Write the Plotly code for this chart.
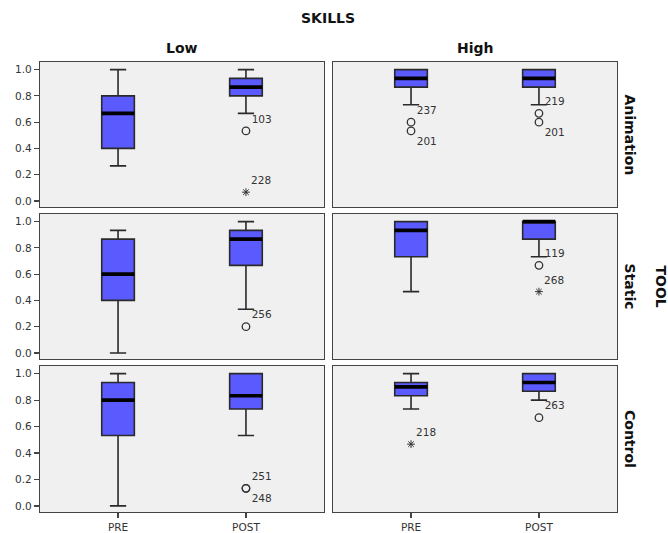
import plotly.graph_objects as go

# ---------------- data ----------------
groups = ["PRE", "POST"]
skills = ["Low", "High"]
tools = ["Animation", "Static", "Control"]

# order: for tool in tools, for skill in skills, for group in groups
lower_whisker = [0.267, 0.667, 0.733, 0.733,
                 0.000, 0.333, 0.467, 0.733,
                 0.000, 0.533, 0.733, 0.800]
q1 = [0.400, 0.800, 0.867, 0.867,
      0.400, 0.667, 0.733, 0.867,
      0.533, 0.733, 0.833, 0.867]
median = [0.667, 0.867, 0.933, 0.933,
          0.600, 0.867, 0.933, 1.000,
          0.800, 0.833, 0.900, 0.933]
q3 = [0.800, 0.933, 1.000, 1.000,
      0.867, 0.933, 1.000, 1.000,
      0.933, 1.000, 0.933, 1.000]
upper_whisker = [1.000, 1.000, 1.000, 1.000,
                 0.933, 1.000, 1.000, 1.000,
                 1.000, 1.000, 1.000, 1.000]

# outliers (circle) and extremes (star)
out_tool = ["Animation", "Animation", "Animation", "Animation", "Animation", "Animation",
            "Static", "Static", "Static", "Control", "Control", "Control", "Control"]
out_skill = ["Low", "Low", "High", "High", "High", "High",
             "Low", "High", "High", "Low", "Low", "High", "High"]
out_group = ["POST", "POST", "PRE", "PRE", "POST", "POST",
             "POST", "POST", "POST", "POST", "POST", "PRE", "POST"]
out_value = [0.533, 0.067, 0.600, 0.533, 0.667, 0.600,
             0.200, 0.667, 0.467, 0.133, 0.133, 0.467, 0.667]
out_kind = ["o", "*", "o", "o", "o", "o",
            "o", "o", "*", "o", "o", "*", "o"]
out_label = ["103", "228", "237", "201", "219", "201",
             "256", "119", "268", "251", "248", "218", "263"]
out_side = ["top", "top", "top", "bottom", "top", "bottom",
            "top", "top", "top", "top", "bottom", "top", "top"]

y_ticks = [0.0, 0.2, 0.4, 0.6, 0.8, 1.0]

# ---------------- layout constants ----------------
W, H = 668, 533
BOX_W = 0.255
X_RANGE = [-0.61, 1.61]
Y_RANGE = [-0.046, 1.058]
BOX_FILL = "#5a5aff"
EDGE = "#2a2a2a"
FONT = "DejaVu Sans"

x_dom = {"Low": [40 / W, 324 / W], "High": [333 / W, 617 / W]}
y_dom = {"Animation": [1 - 207 / H, 1 - 62 / H],
         "Static": [1 - 359 / H, 1 - 214 / H],
         "Control": [1 - 512 / H, 1 - 366 / H]}

fig = go.Figure()
layout_axes = {}

for ti, tool in enumerate(tools):
    for si, skill in enumerate(skills):
        ax = ti * 2 + si + 1
        xa = "x" if ax == 1 else f"x{ax}"
        ya = "y" if ax == 1 else f"y{ax}"
        for gi, g in enumerate(groups):
            k = ti * 4 + si * 2 + gi
            fig.add_trace(go.Box(
                x=[gi], q1=[q1[k]], median=[median[k]], q3=[q3[k]],
                lowerfence=[lower_whisker[k]], upperfence=[upper_whisker[k]],
                width=BOX_W, whiskerwidth=0.5, fillcolor=BOX_FILL,
                line=dict(color=EDGE, width=1.6), boxpoints=False,
                xaxis=xa, yaxis=ya, showlegend=False, hoverinfo="skip"))
            fig.add_trace(go.Scatter(
                x=[gi - BOX_W / 2, gi + BOX_W / 2], y=[median[k], median[k]],
                mode="lines", line=dict(color="black", width=3.6),
                xaxis=xa, yaxis=ya, showlegend=False, hoverinfo="skip"))
        # outliers for this panel
        for kind, sym in (("o", "circle-open"), ("*", "asterisk-open")):
            for side in ("top", "bottom"):
                idx = [i for i in range(len(out_value))
                       if out_tool[i] == tool and out_skill[i] == skill
                       and out_kind[i] == kind and out_side[i] == side]
                if not idx:
                    continue
                fig.add_trace(go.Scatter(
                    x=[groups.index(out_group[i]) for i in idx],
                    y=[out_value[i] for i in idx],
                    text=[out_label[i] for i in idx],
                    mode="markers+text", textposition=f"{side} right",
                    textfont=dict(family=FONT, size=10.5, color="#333333"),
                    marker=dict(symbol=sym, size=7.5 if kind == "o" else 6.5,
                                color="#333333",
                                line=dict(width=1.3 if kind == "o" else 1.0, color="#333333")),
                    xaxis=xa, yaxis=ya, showlegend=False, hoverinfo="skip"))

        bottom = tool == tools[-1]
        left = skill == skills[0]
        layout_axes["xaxis" if ax == 1 else f"xaxis{ax}"] = dict(
            domain=x_dom[skill], range=X_RANGE, anchor=ya,
            tickvals=[0, 1], ticktext=groups, showticklabels=bottom,
            ticks="outside" if bottom else "", ticklen=5, tickwidth=1.2, tickcolor="#444",
            showline=True, mirror=True, linecolor="#444", linewidth=1.2,
            showgrid=False, zeroline=False,
            tickfont=dict(family=FONT, size=10.5, color="#333333"))
        layout_axes["yaxis" if ax == 1 else f"yaxis{ax}"] = dict(
            domain=y_dom[tool], range=Y_RANGE, anchor=xa,
            tickvals=y_ticks, ticktext=[f"{v:.1f}" for v in y_ticks],
            showticklabels=left, ticks="outside" if left else "",
            ticklen=5, tickwidth=1.2, tickcolor="#444",
            showline=True, mirror=True, linecolor="#444", linewidth=1.2,
            showgrid=False, zeroline=False,
            tickfont=dict(family=FONT, size=10.5, color="#333333"))

annotations = [
    dict(text="<b>SKILLS</b>", x=328 / W, y=1 - 18 / H),
    dict(text="<b>Low</b>", x=182 / W, y=1 - 48 / H),
    dict(text="<b>High</b>", x=475 / W, y=1 - 48 / H),
    dict(text="<b>Animation</b>", x=630 / W, y=1 - 134.5 / H, textangle=90),
    dict(text="<b>Static</b>", x=630 / W, y=1 - 286.5 / H, textangle=90),
    dict(text="<b>Control</b>", x=630 / W, y=1 - 439 / H, textangle=90),
    dict(text="<b>TOOL</b>", x=661 / W, y=1 - 286.5 / H, textangle=90),
]
for a in annotations:
    a.update(xref="paper", yref="paper", showarrow=False, xanchor="center", yanchor="middle",
             font=dict(family=FONT, size=14, color="#111111"))

fig.update_layout(
    width=W, height=H, margin=dict(l=0, r=0, t=0, b=0),
    paper_bgcolor="white", plot_bgcolor="#f0f0f0",
    boxmode="overlay", showlegend=False, annotations=annotations,
    **layout_axes)

fig.write_html("out.html", config={"displayModeBar": False, "staticPlot": True},
               post_script="document.body.style.margin='0px';document.body.style.padding='0px';")
